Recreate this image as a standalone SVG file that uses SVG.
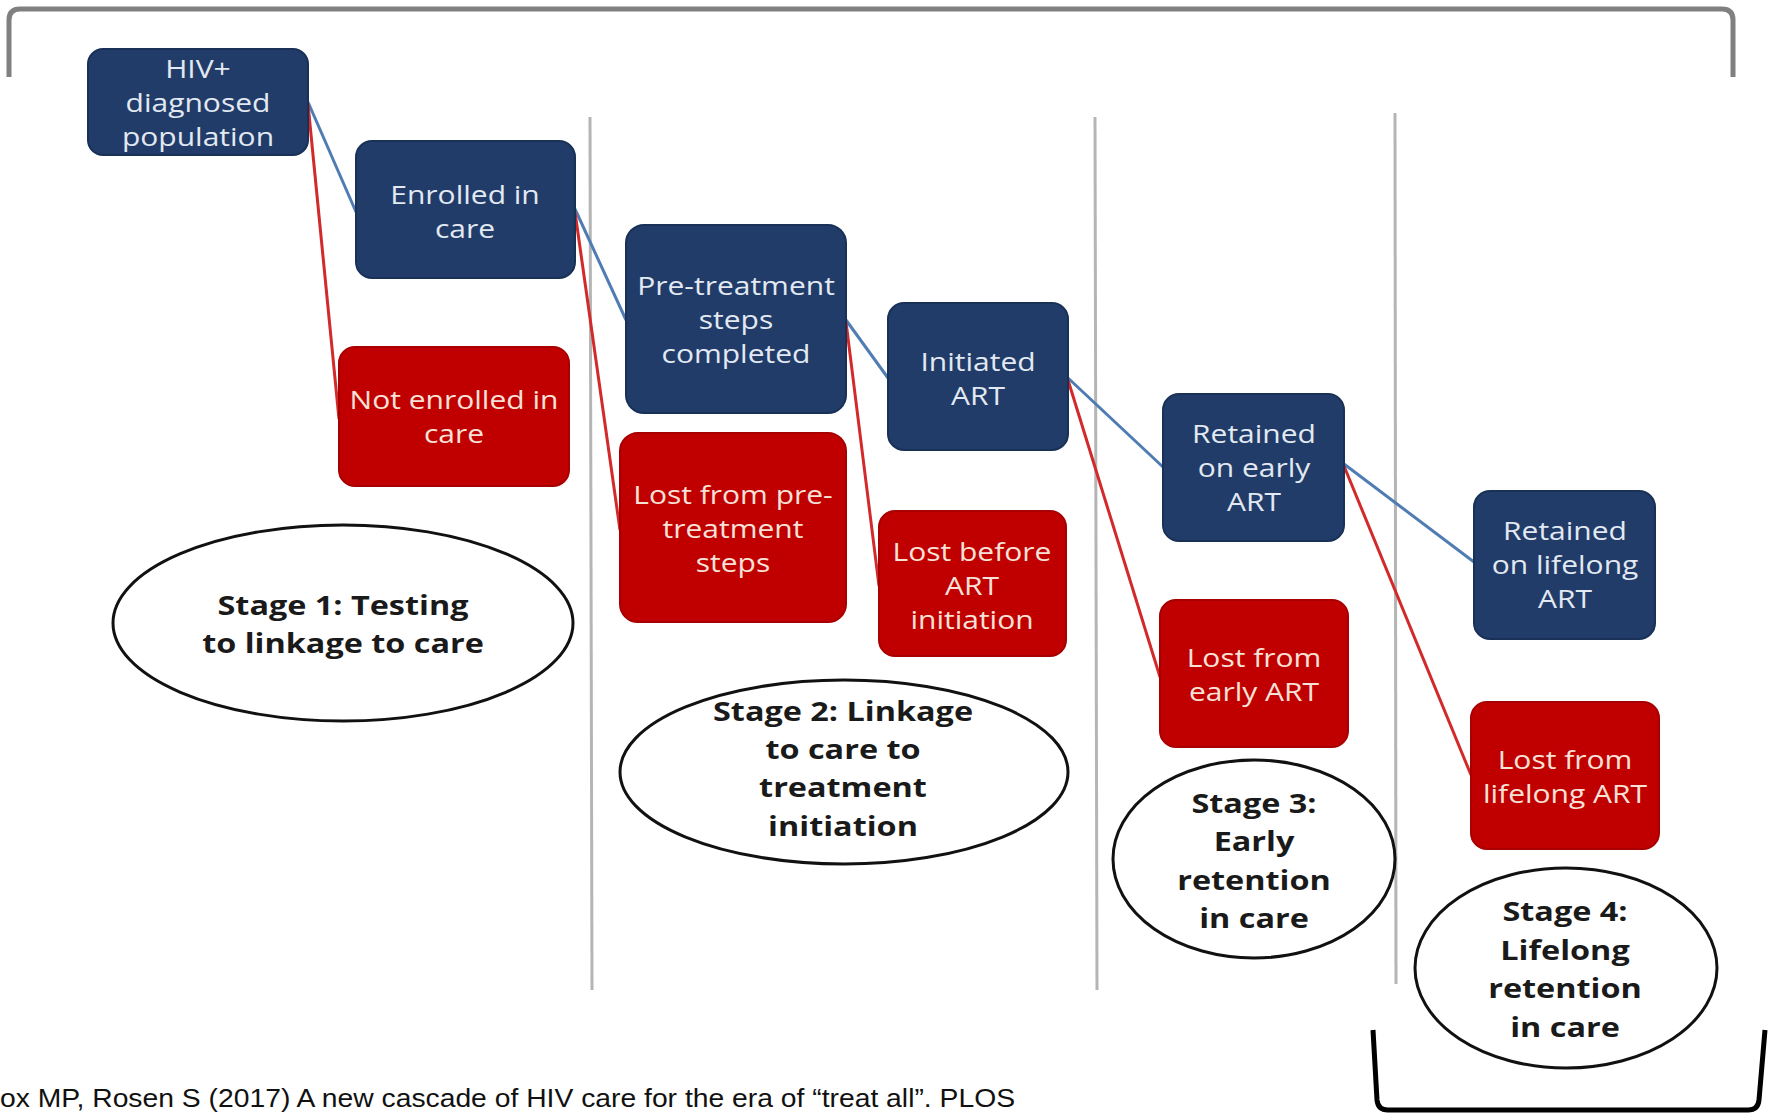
<svg xmlns="http://www.w3.org/2000/svg" width="1774" height="1113" viewBox="0 0 1774 1113">
  <style>
    .blue rect { fill: #213c68; stroke: #1a3157; stroke-width: 2; }
    .red rect { fill: #c00000; stroke: #a80000; stroke-width: 2; }
    .blue text { fill: #e2e9f2; }
    .red text { fill: #f8e2d8; }
    text { font-family: "Open Sans", "Liberation Sans", sans-serif; text-anchor: middle; }
    .node text { font-size: 25px; }
    .stage ellipse { fill: #ffffff; stroke: #111111; stroke-width: 3; }
    .stage text { font-size: 27px; font-weight: bold; fill: #1a1a1a; }
    .sep { stroke: #b5b5b5; stroke-width: 3; }
    .cb { stroke: #4f7db3; stroke-width: 3; fill: none; }
    .cr { stroke: #d22a2a; stroke-width: 3; fill: none; }
  </style>

  <rect x="0" y="0" width="1774" height="1113" fill="#ffffff"/>

  <!-- top bracket -->
  <path d="M 9 77 L 9 20 Q 9 9 20 9 L 1722 9 Q 1733 9 1733 20 L 1733 77" fill="none" stroke="#808080" stroke-width="5"/>

  <!-- bottom bracket -->
  <path d="M 1373 1030 L 1377 1100 Q 1378 1110 1388 1110 L 1748 1110 Q 1758 1110 1759 1100 L 1765 1030" fill="none" stroke="#000000" stroke-width="5"/>

  <!-- stage separators -->
  <g id="separators">
    <line class="sep" x1="590" y1="117" x2="592" y2="990"/>
    <line class="sep" x1="1095" y1="117" x2="1097" y2="990"/>
    <line class="sep" x1="1395" y1="113" x2="1396" y2="984"/>
  </g>

  <!-- connectors -->
  <g id="connectors">
    <line class="cb" x1="308" y1="102" x2="356" y2="212"/>
    <line class="cr" x1="308" y1="104" x2="339" y2="419"/>
    <line class="cb" x1="575" y1="209" x2="626" y2="320"/>
    <line class="cr" x1="575" y1="212" x2="620" y2="530"/>
    <line class="cb" x1="846" y1="320" x2="888" y2="378"/>
    <line class="cr" x1="846" y1="322" x2="879" y2="586"/>
    <line class="cb" x1="1068" y1="378" x2="1163" y2="467"/>
    <line class="cr" x1="1068" y1="380" x2="1160" y2="677"/>
    <line class="cb" x1="1344" y1="464" x2="1474" y2="562"/>
    <line class="cr" x1="1344" y1="466" x2="1471" y2="775"/>
  </g>

  <!-- nodes -->
  <g id="n-hiv" class="node blue">
    <rect x="88" y="49" width="220" height="106" rx="15"/>
    <g transform="translate(198 0) scale(1.2 1)">
      <text x="0" y="78">HIV+</text>
      <text x="0" y="112">diagnosed</text>
      <text x="0" y="146">population</text>
    </g>
  </g>
  <g id="n-enrolled" class="node blue">
    <rect x="356" y="141" width="219" height="137" rx="16"/>
    <g transform="translate(465 0) scale(1.2 1)">
      <text x="0" y="204">Enrolled in</text>
      <text x="0" y="238">care</text>
    </g>
  </g>
  <g id="n-not-enrolled" class="node red">
    <rect x="339" y="347" width="230" height="139" rx="16"/>
    <g transform="translate(454 0) scale(1.2 1)">
      <text x="0" y="409">Not enrolled in</text>
      <text x="0" y="443">care</text>
    </g>
  </g>
  <g id="n-pretreat" class="node blue">
    <rect x="626" y="225" width="220" height="188" rx="18"/>
    <g transform="translate(736 0) scale(1.2 1)">
      <text x="0" y="295">Pre-treatment</text>
      <text x="0" y="329">steps</text>
      <text x="0" y="363">completed</text>
    </g>
  </g>
  <g id="n-lost-pretreat" class="node red">
    <rect x="620" y="433" width="226" height="189" rx="18"/>
    <g transform="translate(733 0) scale(1.2 1)">
      <text x="0" y="504">Lost from pre-</text>
      <text x="0" y="538">treatment</text>
      <text x="0" y="572">steps</text>
    </g>
  </g>
  <g id="n-initiated" class="node blue">
    <rect x="888" y="303" width="180" height="147" rx="16"/>
    <g transform="translate(978 0) scale(1.2 1)">
      <text x="0" y="371">Initiated</text>
      <text x="0" y="405">ART</text>
    </g>
  </g>
  <g id="n-lost-before" class="node red">
    <rect x="879" y="511" width="187" height="145" rx="16"/>
    <g transform="translate(972 0) scale(1.2 1)">
      <text x="0" y="561">Lost before</text>
      <text x="0" y="595">ART</text>
      <text x="0" y="629">initiation</text>
    </g>
  </g>
  <g id="n-retained-early" class="node blue">
    <rect x="1163" y="394" width="181" height="147" rx="16"/>
    <g transform="translate(1254 0) scale(1.2 1)">
      <text x="0" y="443">Retained</text>
      <text x="0" y="477">on early</text>
      <text x="0" y="511">ART</text>
    </g>
  </g>
  <g id="n-lost-early" class="node red">
    <rect x="1160" y="600" width="188" height="147" rx="16"/>
    <g transform="translate(1254 0) scale(1.2 1)">
      <text x="0" y="667">Lost from</text>
      <text x="0" y="701">early ART</text>
    </g>
  </g>
  <g id="n-retained-lifelong" class="node blue">
    <rect x="1474" y="491" width="181" height="148" rx="16"/>
    <g transform="translate(1565 0) scale(1.2 1)">
      <text x="0" y="540">Retained</text>
      <text x="0" y="574">on lifelong</text>
      <text x="0" y="608">ART</text>
    </g>
  </g>
  <g id="n-lost-lifelong" class="node red">
    <rect x="1471" y="702" width="188" height="147" rx="16"/>
    <g transform="translate(1565 0) scale(1.2 1)">
      <text x="0" y="769">Lost from</text>
      <text x="0" y="803">lifelong ART</text>
    </g>
  </g>

  <!-- stage ellipses -->
  <g id="stage1" class="stage">
    <ellipse cx="343" cy="623" rx="230" ry="98"/>
    <g transform="translate(343 0) scale(1.2 1)">
      <text x="0" y="615">Stage 1: Testing</text>
      <text x="0" y="653">to linkage to care</text>
    </g>
  </g>
  <g id="stage2" class="stage">
    <ellipse cx="844" cy="772" rx="224" ry="92"/>
    <g transform="translate(843 0) scale(1.2 1)">
      <text x="0" y="721">Stage 2: Linkage</text>
      <text x="0" y="759">to care to</text>
      <text x="0" y="797">treatment</text>
      <text x="0" y="836">initiation</text>
    </g>
  </g>
  <g id="stage3" class="stage">
    <ellipse cx="1254" cy="859" rx="141" ry="99"/>
    <g transform="translate(1254 0) scale(1.2 1)">
      <text x="0" y="813">Stage 3:</text>
      <text x="0" y="851">Early</text>
      <text x="0" y="890">retention</text>
      <text x="0" y="928">in care</text>
    </g>
  </g>
  <g id="stage4" class="stage">
    <ellipse cx="1566" cy="968" rx="151" ry="100"/>
    <g transform="translate(1565 0) scale(1.2 1)">
      <text x="0" y="921">Stage 4:</text>
      <text x="0" y="960">Lifelong</text>
      <text x="0" y="998">retention</text>
      <text x="0" y="1037">in care</text>
    </g>
  </g>

  <!-- footer citation -->
  <text x="0" y="1107" style="text-anchor:start; font-family:'Liberation Sans', sans-serif; font-size:26px; fill:#111111" textLength="1015" lengthAdjust="spacingAndGlyphs">ox MP, Rosen S (2017) A new cascade of HIV care for the era of “treat all”. PLOS</text>
</svg>
